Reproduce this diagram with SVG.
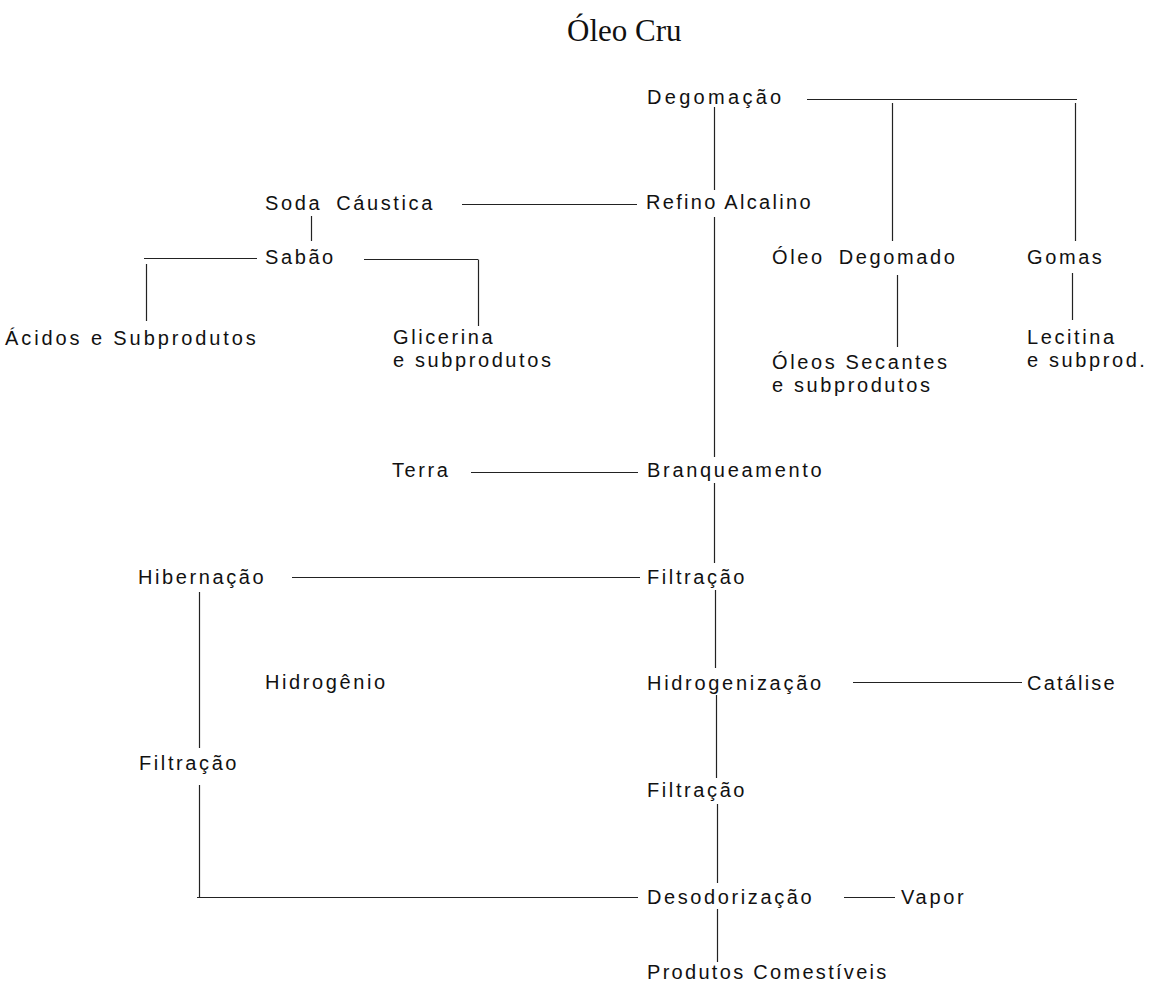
<svg xmlns="http://www.w3.org/2000/svg" width="1151" height="985" viewBox="0 0 1151 985">
<style>
.t{font-family:"Liberation Sans",Arial,sans-serif;font-size:20px;letter-spacing:2.6px;fill:#111}
.title{font-family:"Liberation Serif","Times New Roman",serif;font-size:31px;fill:#111}
.c line{stroke:#222;stroke-width:1.2;fill:none}
</style>
<rect width="1151" height="985" fill="#fff"/>
<g id="connectors" class="c">
<line x1="714.5" y1="107" x2="714.5" y2="190"/>
<line x1="807" y1="99.5" x2="1077" y2="99.5"/>
<line x1="892.5" y1="103" x2="892.5" y2="241"/>
<line x1="1075.5" y1="103" x2="1075.5" y2="241"/>
<line x1="714.5" y1="217" x2="714.5" y2="457"/>
<line x1="462" y1="204.5" x2="637" y2="204.5"/>
<line x1="311.5" y1="216" x2="311.5" y2="241"/>
<line x1="144" y1="258.5" x2="257" y2="258.5"/>
<line x1="146.5" y1="264" x2="146.5" y2="321"/>
<line x1="364" y1="259.5" x2="478" y2="259.5"/>
<line x1="478.5" y1="259.5" x2="478.5" y2="326"/>
<line x1="897.5" y1="275" x2="897.5" y2="347"/>
<line x1="1072.5" y1="273" x2="1072.5" y2="320"/>
<line x1="471" y1="472.5" x2="638" y2="472.5"/>
<line x1="714.5" y1="483" x2="714.5" y2="563"/>
<line x1="292" y1="577.5" x2="640" y2="577.5"/>
<line x1="199.5" y1="592" x2="199.5" y2="748"/>
<line x1="199.5" y1="785" x2="199.5" y2="897.5"/>
<line x1="715.5" y1="590" x2="715.5" y2="668"/>
<line x1="853" y1="682.5" x2="1022" y2="682.5"/>
<line x1="716.5" y1="695" x2="716.5" y2="778"/>
<line x1="717.5" y1="804" x2="717.5" y2="883"/>
<line x1="197" y1="897.5" x2="638" y2="897.5"/>
<line x1="844" y1="897.5" x2="895" y2="897.5"/>
<line x1="717.5" y1="909" x2="717.5" y2="962"/>
</g>
<g id="n-title"><text class="title" x="567" y="41">Óleo Cru</text></g>
<g id="n-degomacao"><text class="t" x="647" y="104" style="letter-spacing:3.3px">Degomação</text></g>
<g id="n-soda"><text class="t" x="265" y="210" style="word-spacing:6px">Soda Cáustica</text></g>
<g id="n-refino"><text class="t" x="646" y="209" style="letter-spacing:2.3px">Refino Alcalino</text></g>
<g id="n-sabao"><text class="t" x="265" y="264">Sabão</text></g>
<g id="n-oleo-degomado"><text class="t" x="772" y="264" style="word-spacing:6px">Óleo Degomado</text></g>
<g id="n-gomas"><text class="t" x="1027" y="264">Gomas</text></g>
<g id="n-acidos"><text class="t" x="5" y="345" style="letter-spacing:2.9px">Ácidos e Subprodutos</text></g>
<g id="n-glicerina"><text class="t" x="393" y="344"><tspan x="393">Glicerina</tspan><tspan x="393" dy="23">e subprodutos</tspan></text></g>
<g id="n-oleos-secantes"><text class="t" x="772" y="369"><tspan x="772">Óleos Secantes</tspan><tspan x="772" dy="23">e subprodutos</tspan></text></g>
<g id="n-lecitina"><text class="t" x="1027" y="344"><tspan x="1027">Lecitina</tspan><tspan x="1027" dy="23">e subprod.</tspan></text></g>
<g id="n-terra"><text class="t" x="392" y="477">Terra</text></g>
<g id="n-branqueamento"><text class="t" x="647" y="477" style="letter-spacing:2.7px">Branqueamento</text></g>
<g id="n-hibernacao"><text class="t" x="138" y="584">Hibernação</text></g>
<g id="n-filtracao1"><text class="t" x="647" y="584">Filtração</text></g>
<g id="n-hidrogenio"><text class="t" x="265" y="689">Hidrogênio</text></g>
<g id="n-hidrogenizacao"><text class="t" x="647" y="690" style="letter-spacing:2.7px">Hidrogenização</text></g>
<g id="n-catalise"><text class="t" x="1027" y="690" style="letter-spacing:2.2px">Catálise</text></g>
<g id="n-filtracao-left"><text class="t" x="139" y="770">Filtração</text></g>
<g id="n-filtracao2"><text class="t" x="647" y="797">Filtração</text></g>
<g id="n-desodorizacao"><text class="t" x="647" y="904">Desodorização</text></g>
<g id="n-vapor"><text class="t" x="901" y="904" style="letter-spacing:2.7px">Vapor</text></g>
<g id="n-produtos"><text class="t" x="647" y="979" style="letter-spacing:2.3px">Produtos Comestíveis</text></g>
</svg>
